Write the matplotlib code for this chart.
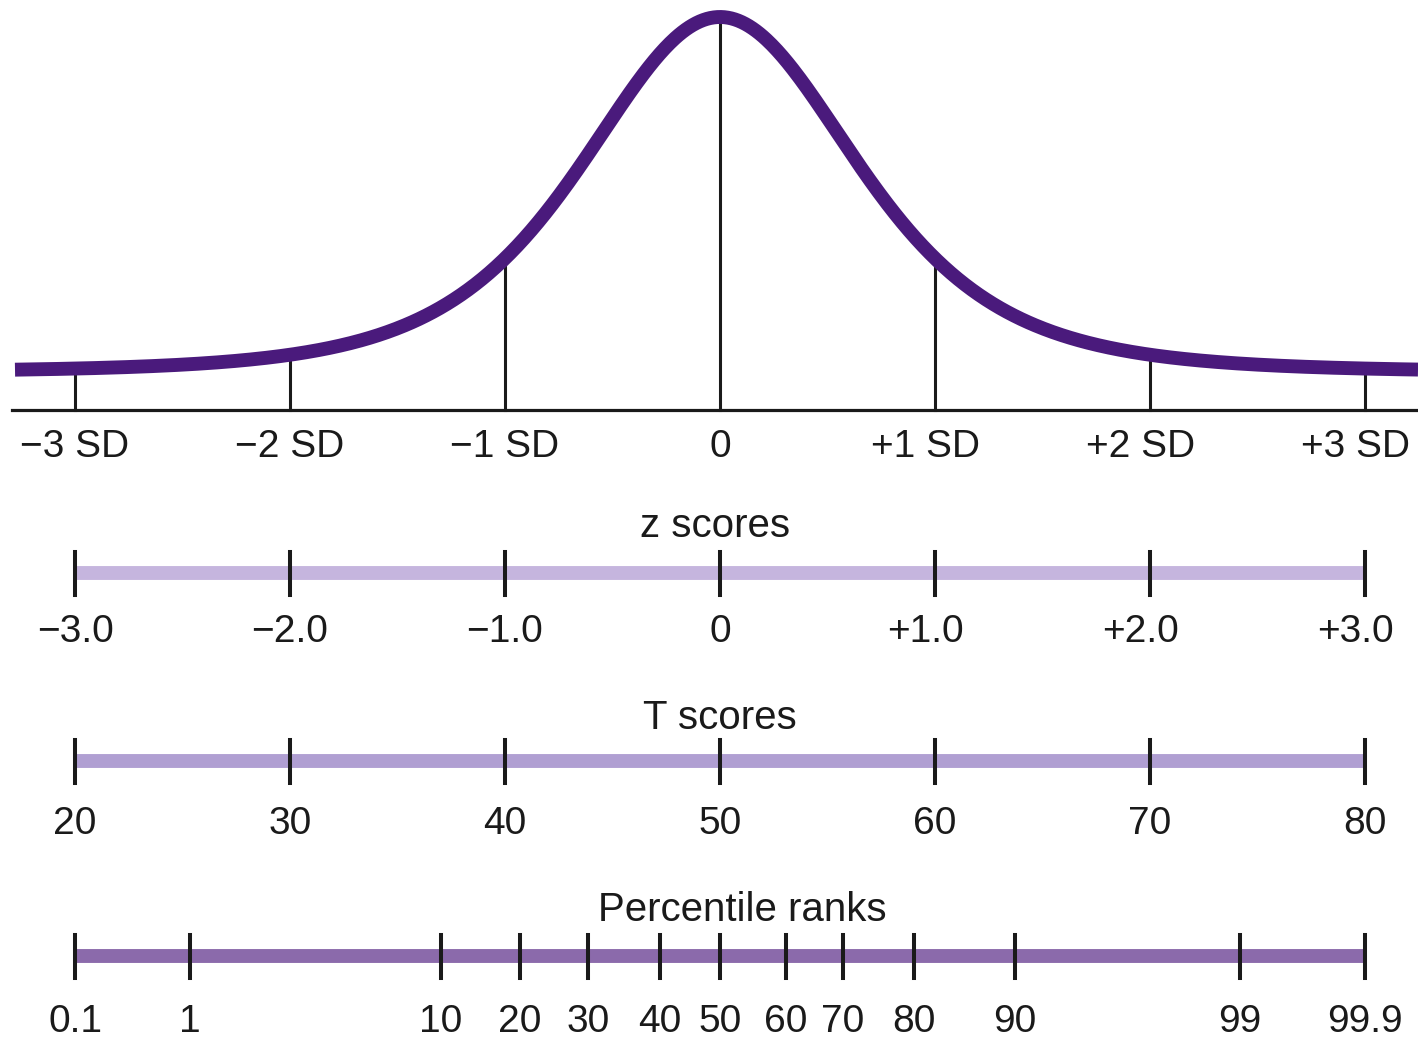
#!/usr/bin/env python3
import numpy as np
import matplotlib
matplotlib.use('Agg')
import matplotlib.pyplot as plt

# Standard deviation markers under the bell curve
sd_positions = [-3, -2, -1, 0, 1, 2, 3]
sd_labels = ['\u22123 SD', '\u22122 SD', '\u22121 SD', '0', '+1 SD', '+2 SD', '+3 SD']

# z scores scale
z_values = [-3, -2, -1, 0, 1, 2, 3]
z_labels = ['\u22123.0', '\u22122.0', '\u22121.0', '0', '+1.0', '+2.0', '+3.0']

# T scores scale
t_scores = [20, 30, 40, 50, 60, 70, 80]

# Percentile ranks scale (positions in SD units)
percentile_labels = ['0.1', '1', '10', '20', '30', '40', '50', '60', '70', '80', '90', '99', '99.9']
percentile_z = [-3.0, -2.465, -1.298, -0.93, -0.614, -0.279, 0.0, 0.307, 0.572, 0.902, 1.372, 2.419, 3.0]

# Colours
curve_color = '#4a1a7c'
z_color = '#c5b5de'
t_color = '#b09fd2'
pct_color = '#8b6aab'

# Figure geometry: work in pixel-like y coordinates, SD units on x
W, H = 1418, 1039
x0_px, px_per_sd = 720, 215
baseline_px, peak_px = 372, 17


def to_sd(px):
    return (px - x0_px) / px_per_sd


def bell(z):
    # heavy-ish tailed bell shape, matched to the drawn curve
    return (1 + 0.55 * z ** 2) ** -2.6


def curve_y(z):
    return baseline_px - (baseline_px - peak_px) * bell(z)


def label_x(pos, lab):
    # the "+" labels sit a little left of their tick in the original
    return pos - 0.045 if lab.startswith('+') else pos


fig = plt.figure(figsize=(W / 100, H / 100), dpi=100)
ax = fig.add_axes([0, 0, 1, 1])
ax.set_xlim(to_sd(0), to_sd(W))
ax.set_ylim(H, 0)
ax.axis('off')

font = dict(family=['Liberation Sans', 'DejaVu Sans'], color='#1a1a1a')
label_size = 28
title_size = 29

# Bell curve and its SD lines
zz = np.linspace(to_sd(15), to_sd(W), 800)
ax.plot(zz, curve_y(zz), color=curve_color, lw=10, solid_capstyle='butt', zorder=3)
ax.plot([to_sd(12), to_sd(W)], [410, 410], color='#1a1a1a', lw=2.3, zorder=2)
for pos, lab in zip(sd_positions, sd_labels):
    ax.plot([pos, pos], [410, curve_y(pos)], color='#1a1a1a', lw=2.2, zorder=2)
    ax.text(label_x(pos, lab), 457, lab, ha='center', va='baseline', fontsize=label_size, **font)


def draw_scale(positions, labels, title, title_x, bar_y, title_base, label_base, color):
    ax.plot([positions[0], positions[-1]], [bar_y, bar_y], color=color, lw=10,
            solid_capstyle='butt', zorder=2)
    for pos, lab in zip(positions, labels):
        ax.plot([pos, pos], [bar_y - 21, bar_y + 22], color='#1a1a1a', lw=2.9, zorder=3)
        ax.text(label_x(pos, lab), label_base, lab, ha='center', va='baseline',
                fontsize=label_size, **font)
    ax.text(title_x, title_base, title, ha='center', va='baseline', fontsize=title_size, **font)


draw_scale(z_values, z_labels, 'z scores', to_sd(715), 573, 537, 642, z_color)
draw_scale(z_values, [str(t) for t in t_scores], 'T scores', to_sd(720), 761, 729, 834, t_color)
draw_scale(percentile_z, percentile_labels, 'Percentile ranks', to_sd(742), 956, 921, 1032, pct_color)

fig.savefig('out.png', dpi=100, facecolor='white')
